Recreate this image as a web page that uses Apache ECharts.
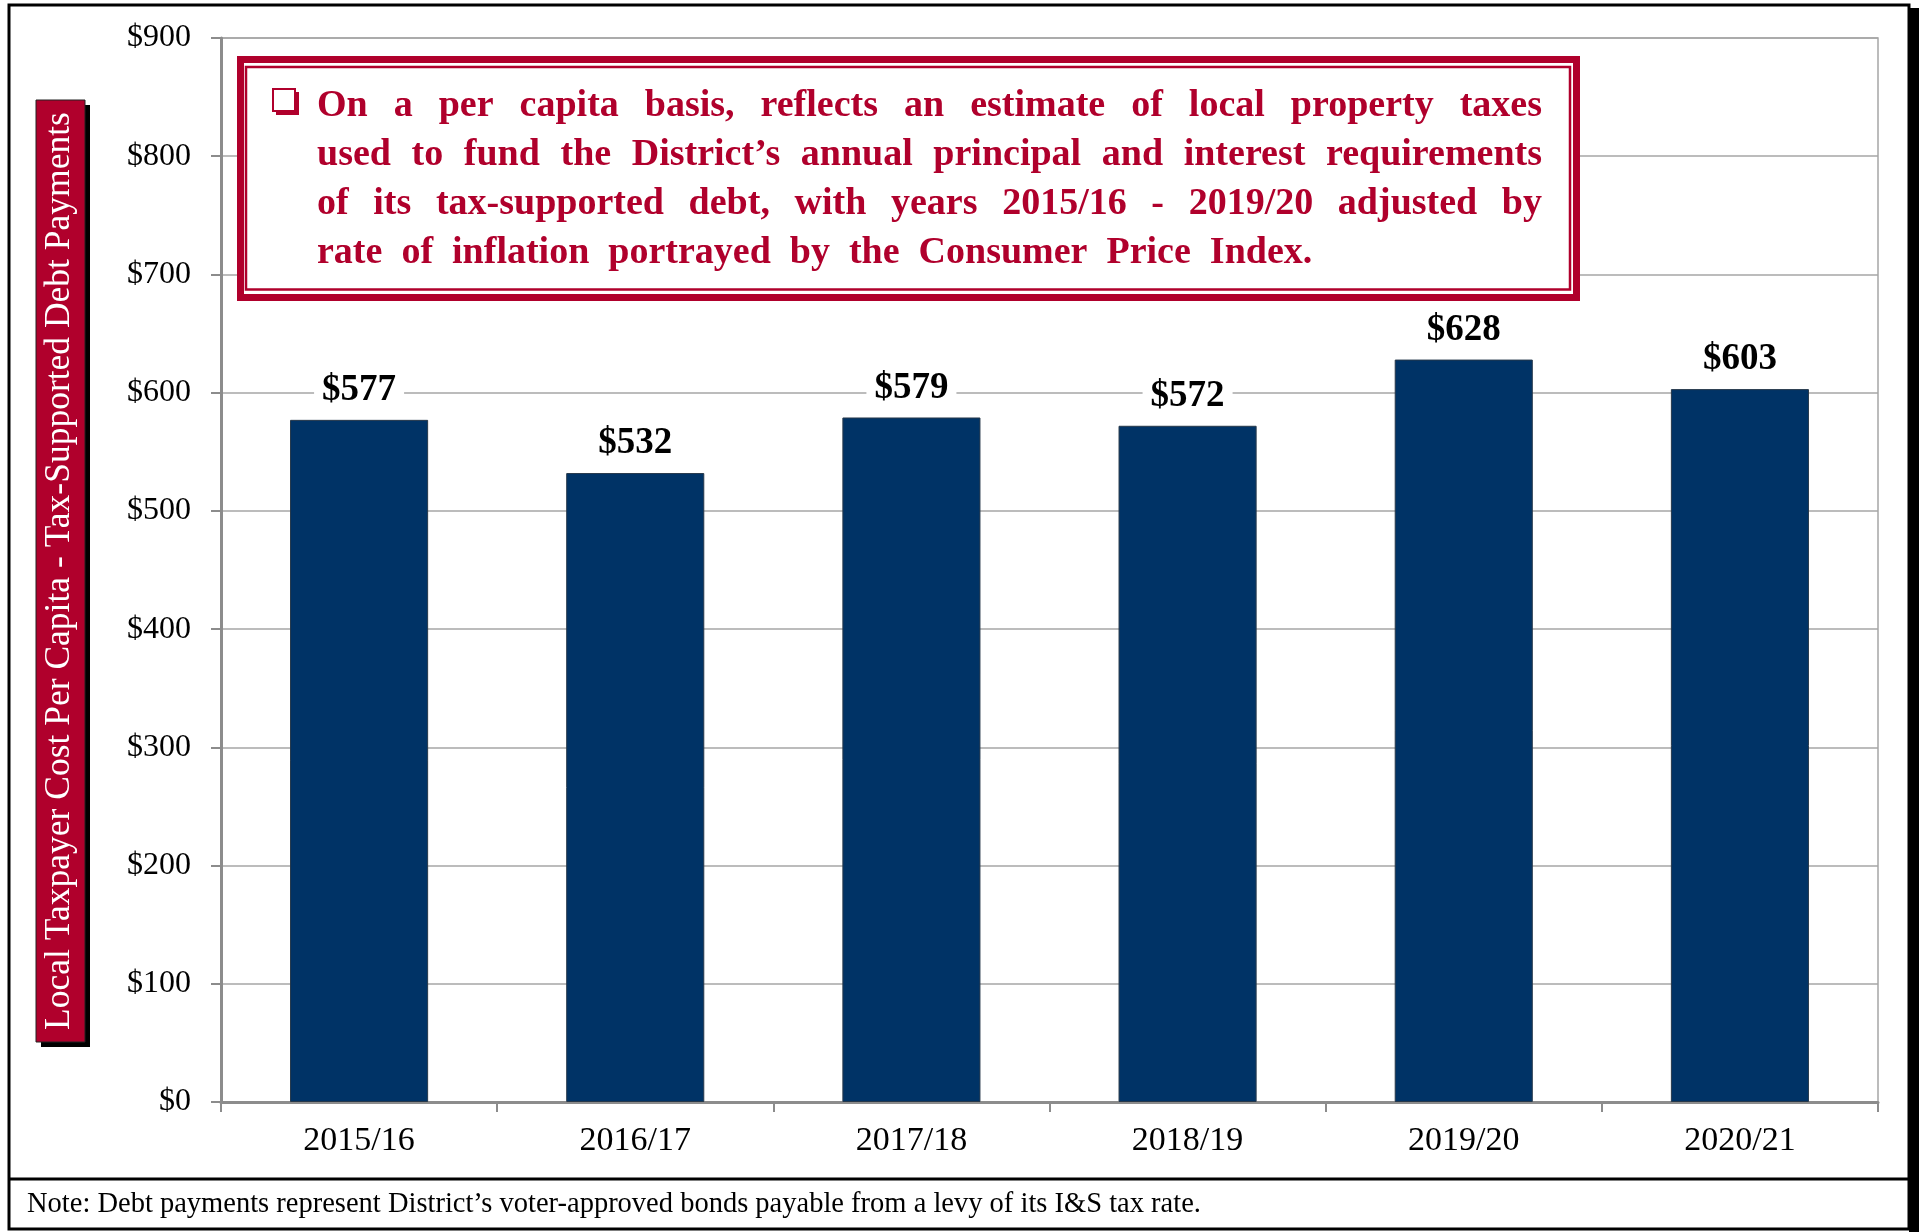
<!DOCTYPE html>
<html>
<head>
<meta charset="utf-8">
<script src="https://cdn.jsdelivr.net/npm/echarts@6/dist/echarts.min.js"></script>
<style>
  html, body { margin: 0; padding: 0; background: #fff; }
  #chart { width: 1919px; height: 1232px; }
</style>
</head>
<body>
<div id="chart"></div>
<script>
// data
const years = ['2015/16', '2016/17', '2017/18', '2018/19', '2019/20', '2020/21']
const costPerCapita = [577, 532, 579, 572, 628, 603]
const yTicks = [0, 100, 200, 300, 400, 500, 600, 700, 800, 900]

const yAxisTitle = 'Local Taxpayer Cost Per Capita - Tax-Supported Debt Payments'
const noteLines = [
  'On a per capita basis, reflects an estimate of local property taxes',
  'used to fund the District\u2019s annual principal and interest requirements',
  'of its tax-supported debt, with years 2015/16 - 2019/20 adjusted by',
  'rate of inflation portrayed by the Consumer Price Index.'
]
const footNote = 'Note: Debt payments represent District\u2019s voter-approved bonds payable from a levy of its I&S tax rate.'

const RED = '#b0002c'
const NAVY = '#003366'
const FONT = '"Liberation Serif", "Times New Roman", serif'

const chart = echarts.init(document.getElementById('chart'))

// justified text in the annotation box: place each word
const ctx = document.createElement('canvas').getContext('2d')
const boxFont = 38
ctx.font = 'bold ' + boxFont + 'px ' + FONT
const textLeft = 317
const textRight = 1542
const lineY = [106, 155, 204, 253]
const boxTexts = []
noteLines.forEach((line, i) => {
  const words = line.split(' ')
  const widths = words.map(w => ctx.measureText(w).width)
  const total = widths.reduce((a, b) => a + b, 0)
  const last = i === noteLines.length - 1
  const gap = last ? ctx.measureText(' ').width * 2.0 : (textRight - textLeft - total) / (words.length - 1)
  let x = textLeft
  words.forEach((w, j) => {
    boxTexts.push({
      type: 'text', x: x, y: lineY[i], z: 12,
      style: {
        text: w, fill: RED, font: 'bold ' + boxFont + 'px ' + FONT,
        textAlign: 'left', textVerticalAlign: 'middle'
      }
    })
    x += widths[j] + gap
  })
})

const option = {
  backgroundColor: '#fff',
  animation: false,
  grid: { left: 221, right: 41, top: 38, bottom: 130, show: true, borderColor: '#a6a6a6', borderWidth: 1.5 },
  xAxis: {
    type: 'category',
    data: years,
    axisLine: { lineStyle: { color: '#8c8c8c', width: 3 } },
    axisTick: { show: true, length: 10, lineStyle: { color: '#8c8c8c', width: 2 } },
    axisLabel: { color: '#000', fontFamily: FONT, fontSize: 34, margin: 22 }
  },
  yAxis: {
    type: 'value',
    min: yTicks[0],
    max: yTicks[yTicks.length - 1],
    interval: yTicks[1] - yTicks[0],
    axisLine: { show: true, lineStyle: { color: '#8c8c8c', width: 3 } },
    axisTick: { show: true, length: 10, lineStyle: { color: '#8c8c8c', width: 2 } },
    axisLabel: { color: '#000', fontFamily: FONT, fontSize: 32, margin: 30, formatter: v => '$' + v },
    splitLine: { lineStyle: { color: '#a6a6a6', width: 1.5 } }
  },
  series: [{
    type: 'bar',
    data: costPerCapita,
    barWidth: '50%',
    itemStyle: { color: NAVY, borderColor: '#26384a', borderWidth: 1 },
    label: {
      show: true,
      position: 'top',
      distance: 11,
      formatter: p => '$' + p.value,
      color: '#000',
      fontFamily: FONT,
      fontWeight: 'bold',
      fontSize: 37,
      backgroundColor: '#fff',
      padding: [0, 8, 0, 8]
    },
    z: 3
  }],
  graphic: [
    // outer frame
    { type: 'rect', shape: { x: 9, y: 5, width: 1900, height: 1224 }, style: { fill: null, stroke: '#000', lineWidth: 3 }, z: 1, silent: true },
    { type: 'rect', shape: { x: 1909, y: 8, width: 10, height: 1224 }, style: { fill: '#000' }, z: 1 },
    { type: 'line', shape: { x1: 9, y1: 1179, x2: 1909, y2: 1179 }, style: { stroke: '#000', lineWidth: 3 }, z: 1 },
    {
      type: 'text', x: 27, y: 1205, z: 5,
      style: { text: footNote, fill: '#000', font: '28.5px ' + FONT, textAlign: 'left', textVerticalAlign: 'middle' }
    },
    // y axis title box
    { type: 'rect', shape: { x: 41, y: 105, width: 49, height: 942 }, style: { fill: '#000' }, z: 5 },
    { type: 'rect', shape: { x: 36, y: 100, width: 49, height: 942 }, style: { fill: RED, stroke: '#222', lineWidth: 1 }, z: 6 },
    {
      type: 'text', x: 60, y: 571, rotation: Math.PI / 2, z: 7,
      style: { text: yAxisTitle, fill: '#fff', font: '35.5px ' + FONT, textAlign: 'center', textVerticalAlign: 'middle' }
    },
    // annotation box
    { type: 'rect', shape: { x: 240.5, y: 59.5, width: 1336, height: 238 }, style: { fill: '#fff', stroke: RED, lineWidth: 7 }, z: 10 },
    { type: 'rect', shape: { x: 246, y: 67, width: 1324, height: 222.5 }, style: { fill: null, stroke: RED, lineWidth: 2.5 }, z: 11 },
    // checkbox bullet
    { type: 'rect', shape: { x: 276, y: 92, width: 23, height: 23 }, style: { fill: RED }, z: 11 },
    { type: 'rect', shape: { x: 273, y: 89, width: 22, height: 22 }, style: { fill: '#fff', stroke: RED, lineWidth: 2 }, z: 12 }
  ].concat(boxTexts)
}

chart.setOption(option)
</script>
</body>
</html>
